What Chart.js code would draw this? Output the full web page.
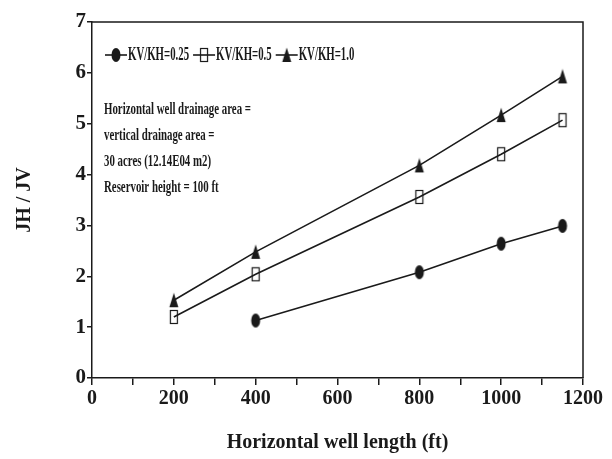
<!DOCTYPE html>
<html>
<head>
<meta charset="utf-8">
<script src="https://cdn.jsdelivr.net/npm/chart.js@4/dist/chart.umd.min.js"></script>
<style>
  html, body { margin: 0; padding: 0; background: #fff; }
</style>
</head>
<body>
<canvas id="chart" width="612" height="459"></canvas>
<script>
// data
const seriesNames = ['KV/KH=0.25', 'KV/KH=0.5', 'KV/KH=1.0'];
const length025 = [400, 800, 1000, 1150];
const ratio025 = [1.13, 2.08, 2.64, 2.99];
const length05 = [200, 400, 800, 1000, 1150];
const ratio05 = [1.20, 2.04, 3.56, 4.40, 5.07];
const length10 = [200, 400, 800, 1000, 1150];
const ratio10 = [1.53, 2.48, 4.18, 5.17, 5.93];
const xTicks = [0, 200, 400, 600, 800, 1000, 1200];
const yTicks = [0, 1, 2, 3, 4, 5, 6, 7];
const noteLines = [
  'Horizontal well drainage area =',
  'vertical drainage area =',
  '30 acres (12.14E04 m2)',
  'Reservoir height = 100 ft'
];

const INK = '#1a1a1a';
const SERIF = '"Liberation Serif", "Times New Roman", serif';

// tall narrow markers like the original
function marker(kind) {
  const c = document.createElement('canvas');
  c.width = 12; c.height = 16;
  const g = c.getContext('2d');
  g.fillStyle = INK; g.strokeStyle = INK; g.lineWidth = 1.2;
  if (kind === 'circle') {
    g.beginPath(); g.ellipse(6, 8, 4.5, 7, 0, 0, Math.PI * 2); g.fill();
  } else if (kind === 'square') {
    g.strokeRect(2.5, 1.5, 7, 13);
  } else {
    g.beginPath(); g.moveTo(6, 0.5); g.lineTo(10.5, 15); g.lineTo(1.5, 15); g.closePath(); g.fill();
  }
  return c;
}
const markers = [marker('circle'), marker('square'), marker('triangle')];

function pts(xs, ys) {
  return xs.map((x, i) => ({ x, y: ys[i] }));
}

function dataset(i, xs, ys) {
  return {
    label: seriesNames[i],
    data: pts(xs, ys),
    showLine: true,
    borderColor: INK,
    borderWidth: 1.6,
    pointStyle: markers[i],
    pointRadius: 7,
    tension: 0
  };
}

// condensed text helper
function narrowText(ctx, text, x, y, size, scaleX) {
  ctx.save();
  ctx.font = 'bold ' + size + 'px ' + SERIF;
  ctx.textBaseline = 'middle';
  ctx.fillStyle = INK;
  ctx.translate(x, y);
  ctx.scale(scaleX, 1);
  ctx.fillText(text, 0, 0);
  ctx.restore();
  ctx.font = 'bold ' + size + 'px ' + SERIF;
  return ctx.measureText(text).width * scaleX;
}

const extras = {
  id: 'extras',
  afterDraw(chart) {
    const { ctx, chartArea: a } = chart;
    // top and right frame
    ctx.save();
    ctx.strokeStyle = INK;
    ctx.lineWidth = 1.5;
    ctx.beginPath();
    ctx.moveTo(a.left, a.top); ctx.lineTo(a.right, a.top); ctx.lineTo(a.right, a.bottom);
    ctx.stroke();
    ctx.restore();

    // legend
    let x = a.left + 13;
    const ly = 55;
    seriesNames.forEach((name, i) => {
      ctx.save();
      ctx.strokeStyle = INK; ctx.lineWidth = 1.6;
      ctx.beginPath(); ctx.moveTo(x, ly); ctx.lineTo(x + 22, ly); ctx.stroke();
      ctx.drawImage(markers[i], x + 5, ly - 8);
      ctx.restore();
      const w = narrowText(ctx, name, x + 23, ly, 18, 0.6);
      x += 23 + w + 4;
    });

    // note
    ctx.font = 'bold 17px ' + SERIF;
    const sc = 147 / ctx.measureText(noteLines[0]).width;
    noteLines.forEach((t, i) => {
      narrowText(ctx, t, a.left + 12, 110 + i * 26, 17, sc);
    });
  }
};

new Chart(document.getElementById('chart').getContext('2d'), {
  type: 'scatter',
  data: {
    datasets: [
      dataset(0, length025, ratio025),
      dataset(1, length05, ratio05),
      dataset(2, length10, ratio10)
    ]
  },
  options: {
    responsive: false,
    animation: false,
    layout: { padding: { left: 0, top: 22, right: 29, bottom: 0 } },
    plugins: {
      legend: { display: false },
      tooltip: { enabled: false }
    },
    scales: {
      x: {
        type: 'linear',
        min: 0,
        max: 1200,
        afterFit: (s) => { s.height = 81; },
        afterBuildTicks: (s) => {
          const t = [];
          for (let v = 0; v <= 1200; v += 100) t.push({ value: v });
          s.ticks = t;
        },
        ticks: {
          autoSkip: false,
          maxRotation: 0,
          padding: 2,
          color: INK,
          font: { family: SERIF, size: 20, weight: 'bold' },
          callback: (v) => (xTicks.includes(v) ? String(v) : '')
        },
        grid: { drawOnChartArea: false, drawTicks: true, tickLength: 7, color: INK, lineWidth: 1.5 },
        border: { color: INK, width: 1.5 },
        title: {
          display: true,
          text: 'Horizontal well length (ft)',
          color: INK,
          font: { family: SERIF, size: 20, weight: 'bold' },
          padding: { top: 0, bottom: 4 }
        }
      },
      y: {
        min: 0,
        max: 7,
        afterFit: (s) => { s.width = 92; },
        afterBuildTicks: (s) => { s.ticks = yTicks.map(v => ({ value: v })); },
        ticks: {
          padding: 1,
          color: INK,
          font: { family: SERIF, size: 21, weight: 'bold' }
        },
        grid: { drawOnChartArea: false, drawTicks: true, tickLength: 5, color: INK, lineWidth: 1.5 },
        border: { color: INK, width: 1.5 },
        title: {
          display: true,
          text: 'JH / JV',
          color: INK,
          font: { family: SERIF, size: 20, weight: 'bold' },
          padding: { top: 13, bottom: 0 }
        }
      }
    }
  },
  plugins: [extras]
});
</script>
</body>
</html>
